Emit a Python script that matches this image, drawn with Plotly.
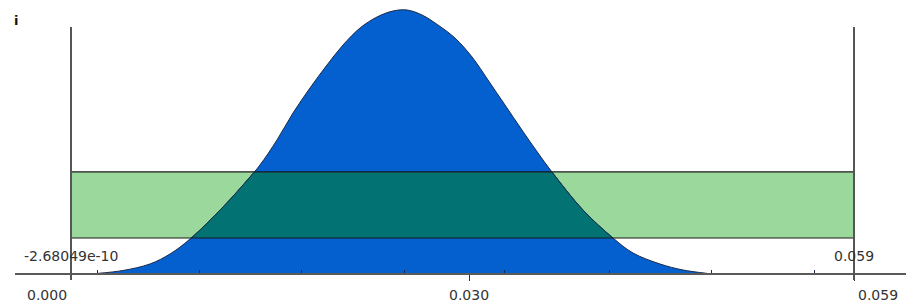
import plotly.graph_objects as go

# ---- data ----
curve_x = [0.00203, 0.00392, 0.00595, 0.00746, 0.00897, 0.01145, 0.01349, 0.01424,
           0.01552, 0.01673, 0.01801, 0.01929, 0.02050, 0.02178, 0.02306, 0.02426,
           0.02532, 0.02645, 0.02765, 0.02893, 0.03022, 0.03142, 0.03270, 0.03398,
           0.03519, 0.03624, 0.03858, 0.04084, 0.04235, 0.04438, 0.04612, 0.04792]
curve_y = [0.12, 0.66, 1.88, 3.75, 6.56, 12.56, 18.19, 20.44,
           25.13, 30.19, 34.88, 39.19, 42.94, 46.13, 48.19, 49.31,
           49.5, 48.56, 46.69, 44.25, 40.69, 36.38, 31.69, 27.0,
           22.69, 19.13, 12.0, 6.75, 3.94, 1.88, 0.75, 0.12]
band_x = [0.0, 0.059]
band_y = [6.75, 19.13]
band_labels = ["-2.68049e-10", "0.059"]
minor_ticks = [0.00203, 0.00968, 0.01735, 0.02516, 0.03270, 0.04054, 0.04829, 0.05605]
major_ticks = [0.000, 0.030, 0.059]
major_labels = ["0.000", "0.030", "0.059"]

X_MIN, X_MAX = 0.0, 0.059
Y_MAX = 50.25

BLUE = "#0560CF"
TEAL = "#037272"
GREEN = "#9AD89B"
OUTLINE = "#1B2A4A"
FONT = "DejaVu Sans"

fig = go.Figure()

# blue distribution area
fig.add_trace(go.Scatter(
    x=curve_x, y=curve_y, mode="lines",
    line=dict(color=OUTLINE, width=1, shape="spline", smoothing=1.0),
    fill="tozeroy", fillcolor=BLUE, hoverinfo="skip", showlegend=False,
    xaxis="x", yaxis="y"))

# overlap (teal) – same curve drawn on an axis whose domain is exactly the band
fig.add_trace(go.Scatter(
    x=curve_x, y=curve_y, mode="lines",
    line=dict(color=OUTLINE, width=1, shape="spline", smoothing=1.0),
    fill="tozeroy", fillcolor=TEAL, hoverinfo="skip", showlegend=False,
    xaxis="x", yaxis="y2"))

d_lo = band_y[0] / Y_MAX
d_hi = band_y[1] / Y_MAX

shapes = []
# green band (below traces)
shapes.append(dict(type="rect", xref="x", yref="y", x0=band_x[0], x1=band_x[1],
                   y0=band_y[0], y1=band_y[1], fillcolor=GREEN,
                   line=dict(width=0), layer="below"))
# band border lines
for yv in band_y:
    shapes.append(dict(type="line", xref="x", yref="y", x0=band_x[0], x1=band_x[1],
                       y0=yv, y1=yv, line=dict(color="#1a1a1a", width=1.2), layer="above"))

# pixel -> paper helpers for decoration
PL, PR, PB, PT = 71, 854, 274, 6
def px(p):
    return (p - PL) / (PR - PL)
def py(p):
    return (PB - p) / (PB - PT)

# long horizontal axis line
shapes.append(dict(type="line", xref="paper", yref="paper", x0=px(15), x1=px(906),
                   y0=0, y1=0, line=dict(color="#5a5a5a", width=2)))
# vertical boundary lines
for xv in (0, 1):
    shapes.append(dict(type="line", xref="paper", yref="paper", x0=xv, x1=xv,
                       y0=py(27), y1=py(280), line=dict(color="#555555", width=2)))

fig.update_layout(
    width=906, height=303,
    margin=dict(l=PL, r=906 - PR, t=PT, b=303 - PB),
    paper_bgcolor="white", plot_bgcolor="rgba(0,0,0,0)",
    shapes=shapes,
    xaxis=dict(range=[X_MIN, X_MAX], showgrid=False, zeroline=False, showline=False,
               tickmode="array", tickvals=minor_ticks, ticks="inside", ticklen=4,
               tickwidth=1, tickcolor="#1a2a4a", showticklabels=False, fixedrange=True),
    xaxis2=dict(range=[X_MIN, X_MAX], overlaying="x", side="bottom", showgrid=False,
                zeroline=False, showline=False, tickmode="array", tickvals=major_ticks[1:],
                ticks="outside", ticklen=6, tickwidth=1, tickcolor="#333333",
                showticklabels=False, anchor="y", fixedrange=True),
    yaxis=dict(range=[0, Y_MAX], visible=False, fixedrange=True),
    yaxis2=dict(range=band_y, domain=[d_lo, d_hi], visible=False, anchor="x",
                fixedrange=True),
)

# invisible trace to make xaxis2 render
fig.add_trace(go.Scatter(x=[X_MIN], y=[0], xaxis="x2", yaxis="y", mode="markers",
                         marker=dict(opacity=0), hoverinfo="skip", showlegend=False))

ann = []
label_px = [47, 469, 878]
for lbl, lp in zip(major_labels, label_px):
    ann.append(dict(text=lbl, xref="paper", yref="paper", x=px(lp), y=py(295),
                    xanchor="center", yanchor="middle", showarrow=False,
                    font=dict(family=FONT, size=14, color="#333333")))
for lbl, xv in zip(band_labels, band_x):
    ann.append(dict(text=lbl, xref="x", yref="paper", x=xv, y=py(256),
                    xanchor="center", yanchor="middle", showarrow=False,
                    font=dict(family=FONT, size=14, color="#333333")))
ann.append(dict(text="<b>i</b>", xref="paper", yref="paper", x=px(16), y=py(20),
                xanchor="center", yanchor="middle", showarrow=False,
                font=dict(family=FONT, size=13, color="#111111")))
fig.update_layout(annotations=ann)

fig.write_html("out.html", config={"displayModeBar": False},
               post_script="document.body.style.margin='0';")
